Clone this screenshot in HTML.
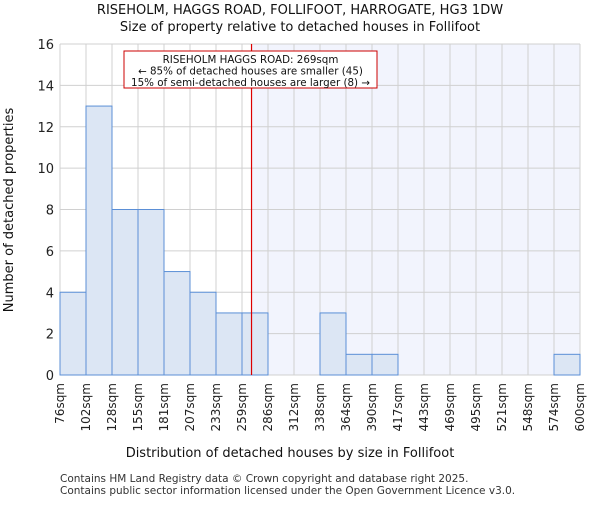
<!DOCTYPE html>
<html><head><meta charset="utf-8"><style>body{margin:0;background:#fff}svg{font-family:"DejaVu Sans","Liberation Sans",sans-serif}</style></head>
<body>
<svg id="c" width="600" height="500" xmlns="http://www.w3.org/2000/svg"></svg>
<script>
const categories=["76sqm","102sqm","128sqm","155sqm","181sqm","207sqm","233sqm","259sqm","286sqm","312sqm","338sqm","364sqm","390sqm","417sqm","443sqm","469sqm","495sqm","521sqm","548sqm","574sqm","600sqm"];
const counts=[4,13,8,8,5,4,3,3,0,0,3,1,1,0,0,0,0,0,0,1];
const yTicks=[0,2,4,6,8,10,12,14,16];
const markerValue=269;
const binStart=76, binWidth=26.2;
const L=60,R=580,T=44,B=375,ymax=16;
const svg=document.getElementById('c');const NS="http://www.w3.org/2000/svg";
function x(i){return L+(R-L)*i/counts.length;}
function xv(v){return L+(R-L)*((v-binStart)/binWidth)/counts.length;}
function y(v){return B-(B-T)*v/ymax;}
function mk(t,a,txt){const e=document.createElementNS(NS,t);for(const k in a)e.setAttribute(k,a[k]);if(txt!==undefined)e.textContent=txt;svg.appendChild(e);return e;}
const mx=xv(markerValue);
let e=mk('rect',{x:mx,y:T,width:R-mx,height:B-T,fill:'#f2f4fd'});


for(let i=0;i<=counts.length;i++){e=mk('line',{x1:x(i),x2:x(i),y1:T,y2:B,stroke:'#d0d0d0'});

}
yTicks.forEach(t=>{e=mk('line',{x1:L,x2:R,y1:y(t),y2:y(t),stroke:'#d0d0d0'});


e=mk('text',{x:L-6,y:y(t)+5,'text-anchor':'end','font-size':13,fill:'#222'},t);

});
counts.forEach((v,i)=>{if(v>0){e=mk('rect',{x:x(i),y:y(v),width:x(i+1)-x(i),height:B-y(v),fill:'#dce6f4',stroke:'#5b8fd6','stroke-width':1});

}});
categories.forEach((c,i)=>{const xx=x(i);e=mk('text',{x:0,y:0,transform:`translate(${xx+4},${383}) rotate(-90)`,'text-anchor':'end','font-size':12,fill:'#222'},c);

});
e=mk('line',{x1:mx,x2:mx,y1:T,y2:B,stroke:'#dd0000','stroke-width':1.2});


e=mk('rect',{x:124,y:51,width:253,height:37,fill:'#fff',stroke:'#cc0000'});


[["RISEHOLM HAGGS ROAD: 269sqm",63],["← 85% of detached houses are smaller (45)",74.5],["15% of semi-detached houses are larger (8) →",86]].forEach(a=>{e=mk('text',{x:250.5,y:a[1],'text-anchor':'middle','font-size':10.3,fill:'#111'},a[0]);

});
e=mk('text',{x:300,y:14,'text-anchor':'middle','font-size':13,fill:'#111'},'RISEHOLM, HAGGS ROAD, FOLLIFOOT, HARROGATE, HG3 1DW');


e=mk('text',{x:300,y:31,'text-anchor':'middle','font-size':13,fill:'#111'},'Size of property relative to detached houses in Follifoot');


e=mk('text',{x:290,y:457,'text-anchor':'middle','font-size':13,fill:'#111'},'Distribution of detached houses by size in Follifoot');


e=mk('text',{x:0,y:0,transform:'translate(13,210) rotate(-90)','text-anchor':'middle','font-size':13,fill:'#111'},'Number of detached properties');


e=mk('text',{x:60,y:482,'font-size':10.5,fill:'#333'},'Contains HM Land Registry data © Crown copyright and database right 2025.');


e=mk('text',{x:60,y:494,'font-size':10.5,fill:'#333'},'Contains public sector information licensed under the Open Government Licence v3.0.');


</script>
</body></html>
